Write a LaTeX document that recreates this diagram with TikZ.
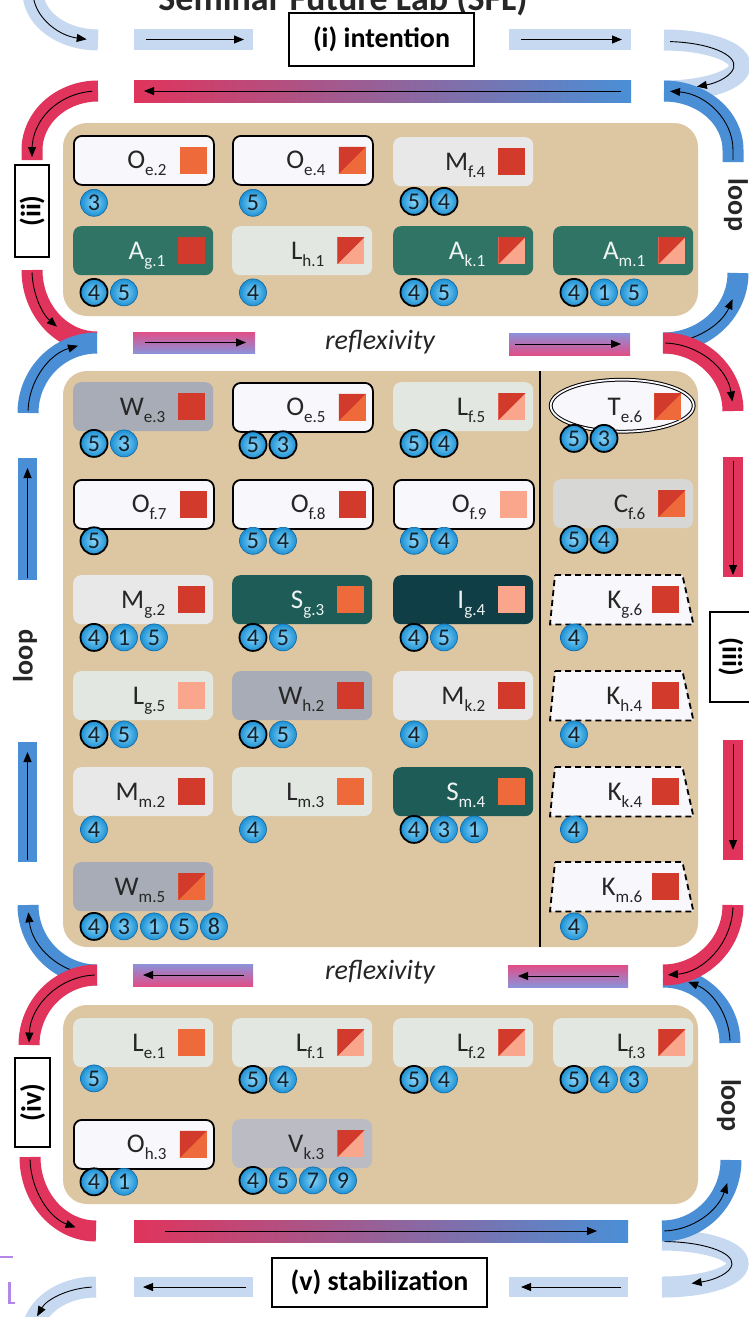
\documentclass[tikz,border=0pt]{standalone}
\usepackage{fontspec}
\setmainfont{Carlito}
\usetikzlibrary{arrows.meta,shapes.geometric}
\definecolor{lbar}{HTML}{C6D9F1}
\definecolor{redC}{HTML}{E0345C}
\definecolor{blueC}{HTML}{4A8FD6}
\definecolor{pinkC}{HTML}{E04E88}
\definecolor{lavC}{HTML}{8C91D9}
\definecolor{tanC}{HTML}{DCC7A2}
\definecolor{oFill}{HTML}{F8F7FB}
\definecolor{aFill}{HTML}{2F7464}
\definecolor{sFill}{HTML}{1D5C57}
\definecolor{iFill}{HTML}{0F3E46}
\definecolor{lFill}{HTML}{E3E7E2}
\definecolor{mFill}{HTML}{E8E8E8}
\definecolor{wFill}{HTML}{A8ACB6}
\definecolor{cFill}{HTML}{D7D7D5}
\definecolor{vFill}{HTML}{BBBBC3}
\definecolor{sqOr}{HTML}{EE6A3A}
\definecolor{sqRd}{HTML}{D23B2B}
\definecolor{sqSa}{HTML}{F9A68C}
\definecolor{txtC}{HTML}{262626}
\definecolor{txtD}{HTML}{14202A}
\definecolor{wTxt}{HTML}{EEF4F2}
\definecolor{ballIn}{HTML}{8AD4F7}
\definecolor{ballOut}{HTML}{1A90D4}
\definecolor{ballE}{HTML}{1565A0}
\definecolor{purpC}{HTML}{B287E8}

\newcommand\sbs[1]{\raisebox{-7pt}{\fontsize{17}{17}\selectfont #1}}
\newcommand\crdin[7]{%
  \node[#5] (#1t) at ([xshift=-#6pt,yshift=-33pt]#1.north east) {#2\sbs{#3}};
  \node[#4] (#1s) at ([xshift=-#7pt]#1.east) {};}
\newcommand\balls[3]{%
  \foreach \n/\s [count=\i from 0] in {#3}{%
    \node[ball,\s] (#1b\i) at ([xshift={(21+30*\i)*1pt},yshift=-#2pt]#1.south west) {\n};}}
\newcommand\earc[6]{\draw[#1, shift={(#2)}] (#5:#3 and #4) arc[start angle=#5, end angle=#6, x radius=#3, y radius=#4];}

\begin{document}
\begin{tikzpicture}[x=1pt,y=-1pt,
  band/.style={line width=21pt},
  lb/.style={band, draw=lbar}, rb/.style={band, draw=redC}, bb/.style={band, draw=blueC},
  arr/.style={draw=black, line width=0.9pt, -{Triangle[length=10pt,width=8pt]}},
  barb/.style={rectangle, inner sep=0pt, outer sep=0pt},
  panel/.style={rectangle, rounded corners=24pt, fill=tanC, inner sep=0pt},
  lbox/.style={draw=black, line width=1.5pt, fill=white, inner sep=0pt, font=\bfseries\fontsize{28}{28}\selectfont},
  card/.style={rectangle, rounded corners=8pt, minimum width=140pt, minimum height=49pt, inner sep=0pt, anchor=north west},
  ocard/.style={card, fill=oFill, draw=black, line width=1.8pt},
  acard/.style={card, fill=aFill}, scard/.style={card, fill=sFill}, icard/.style={card, fill=iFill},
  lcard/.style={card, fill=lFill}, mcard/.style={card, fill=mFill}, wcard/.style={card, fill=wFill},
  ccard/.style={card, fill=cFill}, vcard/.style={card, fill=vFill}, kcard/.style={card},
  kshape/.style={draw=black, line width=1.8pt, dash pattern=on 6pt off 4pt, fill=oFill},
  sq/.style={rectangle, minimum size=27pt, inner sep=0pt, outer sep=0pt},
  sqor/.style={sq, fill=sqOr}, sqrd/.style={sq, fill=sqRd}, sqsa/.style={sq, fill=sqSa},
  sqro/.style={sq, fill=sqOr, path picture={\fill[sqRd] (path picture bounding box.north west) -- (path picture bounding box.north east) -- (path picture bounding box.south west) -- cycle;}},
  sqrs/.style={sq, fill=sqSa, path picture={\fill[sqRd] (path picture bounding box.north west) -- (path picture bounding box.north east) -- (path picture bounding box.south west) -- cycle;}},
  lbl/.style={anchor=base east, inner sep=0pt, text=txtC, font=\fontsize{27}{27}\selectfont},
  wlbl/.style={lbl, text=wTxt},
  ball/.style={circle, minimum size=27pt, inner sep=0pt, inner color=ballIn, outer color=ballOut, draw=ballE, line width=0.6pt, text=txtD, font=\fontsize{24}{24}\selectfont},
  bk/.style={draw=black, line width=1.8pt}, nb/.style={},
  refl/.style={inner sep=0pt, font=\itshape\fontsize{28}{28}\selectfont, text=txtC},
  loopl/.style={inner sep=0pt, font=\bfseries\fontsize{28}{28}\selectfont, text=txtC}
]
\useasboundingbox (0,0) rectangle (749,1317);
\fill[white] (0,0) rectangle (749,1317);
\begin{scope}
\clip (0,0) rectangle (749,1317);
\node[anchor=base, inner sep=0pt, font=\bfseries\fontsize{36}{36}\selectfont, text=txtC] (title) at (343,10) {Seminar Future Lab (SFL)};
\end{scope}

% ---------- centres of the arcs ----------
\coordinate (cA) at (98,-8);
\coordinate (cB) at (664,65.5);
\coordinate (cC) at (98,150);
\coordinate (cD) at (664,150);
\coordinate (cE) at (97,270);
\coordinate (cF) at (97,413);
\coordinate (cG) at (663,273);
\coordinate (cH) at (663,411);
\coordinate (cI) at (97,905);
\coordinate (cJ) at (97,1045);
\coordinate (cK) at (96,1157);
\coordinate (cL) at (663,905);
\coordinate (cM) at (663,1043);
\coordinate (cN) at (662,1160);
\coordinate (cO) at (662,1263.5);
\coordinate (cP) at (96,1335);

% ---------- top: (i) intention ----------
\earc{lb}{cA}{65}{48}{190}{90}
\earc{arr}{cA}{65}{48}{172}{100}
\node[barb, fill=lbar, minimum width=119pt, minimum height=21pt] (b1) at (193.5,39.5) {};
\draw[arr] ([xshift=12pt]b1.west) -- ([xshift=-9pt]b1.east);
\node[lbox, minimum width=185pt, minimum height=53pt] (intent) at (381.5,39.5) {(i) intention};
\node[barb, fill=lbar, minimum width=122pt, minimum height=21pt] (b2) at (570,39.5) {};
\draw[arr] ([xshift=12pt]b2.west) -- ([xshift=-9pt]b2.east);
\earc{lb}{cB}{76}{25.5}{270}{450}
\earc{arr}{cB}{70}{24}{275}{422}
\node[barb, left color=redC, right color=blueC, minimum width=497pt, minimum height=22pt] (g1) at (382.5,91) {};
\draw[arr] ([xshift=-10pt]g1.east) -- ([xshift=10pt]g1.west);
\draw[bb, shift={(cD)}] (69,12) -- (0:69 and 59) arc[start angle=0, end angle=-90, x radius=69, y radius=59];
\draw[arr, shift={(cD)}] (69,10) -- (0:69 and 59) arc[start angle=0, end angle=-85, x radius=69, y radius=59];
\draw[rb, shift={(cC)}] (270:66 and 59) arc[start angle=270, end angle=180, x radius=66, y radius=59] -- ++(0,10);
\draw[arr, shift={(cC)}] (265:66 and 59) arc[start angle=265, end angle=180, x radius=66, y radius=59] -- ++(0,7);

% ---------- (ii) and loop ----------
\node[lbox, minimum width=34pt, minimum height=92pt] (ii) at (32,211) {\rotatebox{90}{(ii)}};
\node[loopl, rotate=-90] (loop1) at (736,205) {loop};
\earc{rb}{cE}{65}{72}{180}{90}
\earc{arr}{cE}{65}{72}{178}{128}
\earc{bb}{cF}{69}{70}{180}{270}
\earc{arr}{cF}{69}{70}{182}{254}
\earc{bb}{cG}{75}{70}{90}{0}
\earc{arr}{cG}{75}{70}{88}{22}
\earc{rb}{cH}{70}{68}{270}{360}
\earc{arr}{cH}{70}{68}{272}{352}

% ---------- reflexivity 1 ----------
\node[barb, top color=pinkC, bottom color=lavC, minimum width=122pt, minimum height=21pt] (r1L) at (194,342.5) {};
\draw[arr] ([xshift=12pt]r1L.west) -- ([xshift=-9pt]r1L.east);
\node[refl] (rf1) at (380,342) {reflexivity};
\node[barb, top color=lavC, bottom color=pinkC, minimum width=121pt, minimum height=22pt] (r1R) at (569.5,344) {};
\draw[arr] ([xshift=6pt]r1R.west) -- ([xshift=-9pt]r1R.east);

% ---------- middle sides ----------
\node[barb, fill=blueC, minimum width=19pt, minimum height=122pt] (vL1) at (27.5,519) {};
\draw[arr] ([yshift=2pt]vL1.south) -- ([yshift=-10pt]vL1.north);
\node[loopl, rotate=90] (loop2) at (25,656) {loop};
\node[barb, fill=blueC, minimum width=19pt, minimum height=120pt] (vL2) at (27.5,802) {};
\draw[arr] ([yshift=2pt]vL2.south) -- ([yshift=-10pt]vL2.north);
\node[barb, fill=redC, minimum width=20pt, minimum height=120pt] (vR1) at (733,517) {};
\draw[arr] ([yshift=-4pt]vR1.north) -- ([yshift=2pt]vR1.south);
\node[lbox, minimum width=42pt, minimum height=90pt] (iii) at (731,657) {\rotatebox{-90}{(iii)}};
\node[barb, fill=redC, minimum width=20pt, minimum height=120pt] (vR2) at (733,800) {};
\draw[arr] ([yshift=-4pt]vR2.north) -- ([yshift=10pt]vR2.south);

% ---------- reflexivity 2 ----------
\earc{bb}{cI}{69}{70}{90}{180}
\earc{arr}{cI}{69}{70}{92}{174}
\earc{rb}{cJ}{68}{70}{270}{180}
\earc{arr}{cJ}{68}{70}{268}{182}
\earc{bb}{cM}{67}{66}{0}{-90}
\earc{arr}{cM}{67}{66}{-2}{-68}
\earc{rb}{cL}{70}{70}{0}{90}
\earc{arr}{cL}{70}{70}{2}{86}
\node[barb, top color=lavC, bottom color=pinkC, minimum width=120pt, minimum height=22pt] (r2L) at (193,975) {};
\draw[arr] ([xshift=-9pt]r2L.east) -- ([xshift=10pt]r2L.west);
\node[refl] (rf2) at (380,972) {reflexivity};
\node[barb, top color=pinkC, bottom color=lavC, minimum width=120pt, minimum height=22pt] (r2R) at (568,976) {};
\draw[arr] ([xshift=-9pt]r2R.east) -- ([xshift=10pt]r2R.west);

% ---------- (iv), loop, bottom ----------
\node[lbox, minimum width=35pt, minimum height=89pt] (iv) at (32.5,1102.5) {\rotatebox{90}{(iv)}};
\node[loopl, rotate=-90] (loop3) at (729,1105) {loop};
\earc{rb}{cK}{66}{74}{180}{90}
\earc{arr}{cK}{66}{74}{178}{108}
\earc{lb}{cO}{76}{23.5}{270}{450}
\earc{arr}{cO}{70}{22}{272}{425}
\earc{bb}{cN}{69}{71}{90}{0}
\earc{arr}{cN}{69}{71}{88}{19}
\node[barb, left color=redC, right color=blueC, minimum width=494pt, minimum height=22pt] (g2) at (381,1231) {};
\draw[arr] ([xshift=31pt]g2.west) -- ([xshift=-31pt]g2.east);
\node[barb, fill=lbar, minimum width=119pt, minimum height=20pt] (b3) at (193.5,1287) {};
\draw[arr] ([xshift=-7pt]b3.east) -- ([xshift=9pt]b3.west);
\node[lbox, minimum width=215pt, minimum height=49pt] (stab) at (379.5,1282.5) {(v) stabilization};
\node[barb, fill=lbar, minimum width=119pt, minimum height=20pt] (b4) at (568.5,1287) {};
\draw[arr] ([xshift=-7pt]b4.east) -- ([xshift=12pt]b4.west);
\earc{lb}{cP}{64}{48}{270}{170}
\earc{arr}{cP}{64}{48}{266}{203}
\draw[purpC, line width=2.5pt] (0,1257) -- (13,1257);
\draw[purpC, line width=2.5pt] (9.5,1282) -- (9.5,1303) -- (15,1303);

% ---------- panels ----------
\node[panel, minimum width=635pt, minimum height=193pt] (P1) at (380.5,219.5) {};
\node[panel, minimum width=635pt, minimum height=576pt] (P2) at (380.5,659) {};
\node[panel, minimum width=635pt, minimum height=199pt] (P3) at (380.5,1104.5) {};
\coordinate (dvT) at (540,371);
\coordinate (dvB) at (540,947);
\draw[line width=1.4pt] (dvT) -- (dvB);

% ---------- panel 1 ----------
\node[ocard] (Oe2) at (73,135) {}; \crdin{Oe2}{O}{e.2}{sqor}{lbl}{48}{21.5} \balls{Oe2}{17}{3/nb}
\node[ocard] (Oe4) at (232,135) {}; \crdin{Oe4}{O}{e.4}{sqro}{lbl}{48}{21.5} \balls{Oe4}{17}{5/nb}
\node[mcard] (Mf4) at (393,137) {}; \crdin{Mf4}{M}{f.4}{sqrd}{lbl}{48}{21.5} \balls{Mf4}{15}{5/bk,4/bk}
\node[acard] (Ag1) at (73,226) {}; \crdin{Ag1}{A}{g.1}{sqrd}{wlbl}{48}{21.5} \balls{Ag1}{17}{4/bk,5/nb}
\node[lcard] (Lh1) at (232,226) {}; \crdin{Lh1}{L}{h.1}{sqrs}{lbl}{48}{21.5} \balls{Lh1}{17}{4/nb}
\node[acard] (Ak1) at (393,226) {}; \crdin{Ak1}{A}{k.1}{sqrs}{wlbl}{48}{21.5} \balls{Ak1}{17}{4/bk,5/nb}
\node[acard] (Am1) at (553,226) {}; \crdin{Am1}{A}{m.1}{sqrs}{wlbl}{48}{21.5} \balls{Am1}{17}{4/bk,1/nb,5/nb}

% ---------- panel 2 ----------
\node[wcard] (We3) at (73,382) {}; \crdin{We3}{W}{e.3}{sqrd}{lbl}{48}{21.5} \balls{We3}{12}{5/bk,3/nb}
\node[ocard] (Oe5) at (232,382) {}; \crdin{Oe5}{O}{e.5}{sqro}{lbl}{48}{21.5} \balls{Oe5}{12}{5/bk,3/bk}
\node[lcard] (Lf5) at (393,382) {}; \crdin{Lf5}{L}{f.5}{sqrs}{lbl}{48}{21.5} \balls{Lf5}{12}{5/bk,4/bk}
\node[kcard] (Te6) at (553,382) {};
\node[ellipse, draw=black, double=oFill, double distance=1.8pt, line width=1pt, fill=oFill, minimum width=143pt, minimum height=52pt, inner sep=0pt] (Te6e) at ([xshift=-1pt,yshift=1pt]Te6.center) {};
\crdin{Te6}{T}{e.6}{sqro}{lbl}{51}{25.5} \balls{Te6}{7}{5/bk,3/bk}

\node[ocard] (Of7) at (73,479) {}; \crdin{Of7}{O}{f.7}{sqrd}{lbl}{48}{21.5} \balls{Of7}{11}{5/bk}
\node[ocard] (Of8) at (232,479) {}; \crdin{Of8}{O}{f.8}{sqrd}{lbl}{48}{21.5} \balls{Of8}{11}{5/nb,4/nb}
\node[ocard] (Of9) at (393,479) {}; \crdin{Of9}{O}{f.9}{sqsa}{lbl}{48}{21.5} \balls{Of9}{11}{5/nb,4/nb}
\node[ccard] (Cf6) at (553,479) {}; \crdin{Cf6}{C}{f.6}{sqro}{lbl}{48}{21.5} \balls{Cf6}{11}{5/bk,4/bk}

\node[mcard] (Mg2) at (73,575) {}; \crdin{Mg2}{M}{g.2}{sqrd}{lbl}{48}{21.5} \balls{Mg2}{13}{4/bk,1/nb,5/nb}
\node[scard] (Sg3) at (232,575) {}; \crdin{Sg3}{S}{g.3}{sqor}{wlbl}{48}{21.5} \balls{Sg3}{13}{4/bk,5/nb}
\node[icard] (Ig4) at (393,575) {}; \crdin{Ig4}{I}{g.4}{sqsa}{wlbl}{48}{21.5} \balls{Ig4}{13}{4/bk,5/nb}
\node[kcard] (Kg6) at (553,575) {};
\draw[kshape] ([xshift=2pt]Kg6.north west) -- ([xshift=-11pt]Kg6.north east) -- (Kg6.south east) -- ([xshift=-3pt]Kg6.south west) -- cycle;
\crdin{Kg6}{K}{g.6}{sqrd}{lbl}{51}{28} \balls{Kg6}{13}{4/nb}

\node[lcard] (Lg5) at (73,671) {}; \crdin{Lg5}{L}{g.5}{sqsa}{lbl}{48}{21.5} \balls{Lg5}{14}{4/bk,5/nb}
\node[wcard] (Wh2) at (232,671) {}; \crdin{Wh2}{W}{h.2}{sqrd}{lbl}{48}{21.5} \balls{Wh2}{14}{4/bk,5/nb}
\node[mcard] (Mk2) at (393,671) {}; \crdin{Mk2}{M}{k.2}{sqrd}{lbl}{48}{21.5} \balls{Mk2}{14}{4/nb}
\node[kcard] (Kh4) at (553,671) {};
\draw[kshape] ([xshift=2pt]Kh4.north west) -- ([xshift=-11pt]Kh4.north east) -- (Kh4.south east) -- ([xshift=-3pt]Kh4.south west) -- cycle;
\crdin{Kh4}{K}{h.4}{sqrd}{lbl}{51}{28} \balls{Kh4}{14}{4/nb}

\node[mcard] (Mm2) at (73,767) {}; \crdin{Mm2}{M}{m.2}{sqrd}{lbl}{48}{21.5} \balls{Mm2}{13}{4/nb}
\node[lcard] (Lm3) at (232,767) {}; \crdin{Lm3}{L}{m.3}{sqor}{lbl}{48}{21.5} \balls{Lm3}{13}{4/nb}
\node[scard] (Sm4) at (393,767) {}; \crdin{Sm4}{S}{m.4}{sqor}{wlbl}{48}{21.5} \balls{Sm4}{13}{4/bk,3/nb,1/nb}
\node[kcard] (Kk4) at (553,767) {};
\draw[kshape] ([xshift=2pt]Kk4.north west) -- ([xshift=-11pt]Kk4.north east) -- (Kk4.south east) -- ([xshift=-3pt]Kk4.south west) -- cycle;
\crdin{Kk4}{K}{k.4}{sqrd}{lbl}{51}{28} \balls{Kk4}{13}{4/nb}

\node[wcard] (Wm5) at (73,862) {}; \crdin{Wm5}{W}{m.5}{sqro}{lbl}{48}{21.5} \balls{Wm5}{15}{4/bk,3/nb,1/nb,5/nb,8/nb}
\node[kcard] (Km6) at (553,862) {};
\draw[kshape] ([xshift=2pt]Km6.north west) -- ([xshift=-11pt]Km6.north east) -- (Km6.south east) -- ([xshift=-3pt]Km6.south west) -- cycle;
\crdin{Km6}{K}{m.6}{sqrd}{lbl}{51}{28} \balls{Km6}{15}{4/nb}

% ---------- panel 3 ----------
\node[lcard] (Le1) at (73,1018) {}; \crdin{Le1}{L}{e.1}{sqor}{lbl}{48}{21.5} \balls{Le1}{11}{5/nb}
\node[lcard] (Lf1) at (232,1018) {}; \crdin{Lf1}{L}{f.1}{sqrs}{lbl}{48}{21.5} \balls{Lf1}{12}{5/bk,4/nb}
\node[lcard] (Lf2) at (393,1018) {}; \crdin{Lf2}{L}{f.2}{sqrs}{lbl}{48}{21.5} \balls{Lf2}{12}{5/bk,4/nb}
\node[lcard] (Lf3) at (553,1018) {}; \crdin{Lf3}{L}{f.3}{sqrs}{lbl}{48}{21.5} \balls{Lf3}{12}{5/bk,4/nb,3/nb}
\node[ocard] (Oh3) at (73,1119) {}; \crdin{Oh3}{O}{h.3}{sqro}{lbl}{48}{21.5} \balls{Oh3}{12}{4/bk,1/nb}
\node[vcard] (Vk3) at (232,1119) {}; \crdin{Vk3}{V}{k.3}{sqrs}{lbl}{48}{21.5} \balls{Vk3}{12}{4/bk,5/nb,7/nb,9/nb}
\end{tikzpicture}
\end{document}
